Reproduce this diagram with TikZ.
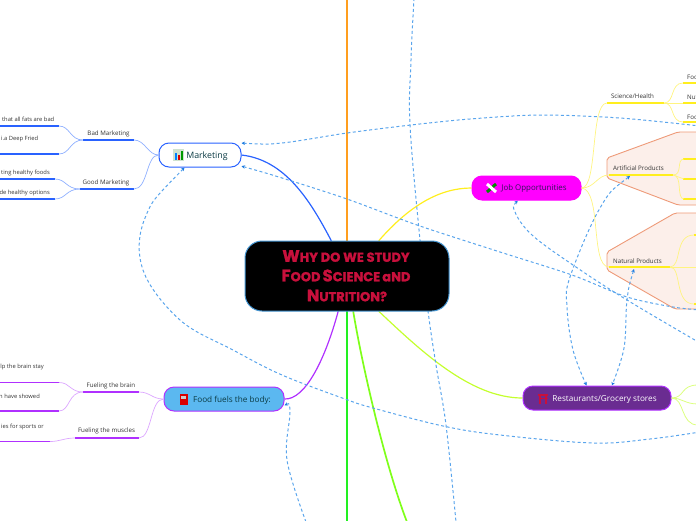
\documentclass[tikz,border=0pt]{standalone}
\usepackage{fontspec}
\setmainfont{Open Sans}
\newfontfamily\titlefont{Poppins}[BoldFeatures={FakeBold=1.6}]
\usetikzlibrary{arrows.meta}
\definecolor{bluedeep}{HTML}{2962FF}
\definecolor{bluelite}{HTML}{8FB0FF}
\definecolor{purpdeep}{HTML}{B030FF}
\definecolor{purplite}{HTML}{DCA6FF}
\definecolor{yeldeep}{HTML}{FFEE1E}
\definecolor{yellite}{HTML}{FFF480}
\definecolor{limedeep}{HTML}{C4FF2E}
\definecolor{limelite}{HTML}{DCFF80}
\definecolor{relblue}{HTML}{5AA5EC}
\definecolor{tipblue}{HTML}{1E7BE0}
\definecolor{crimson}{HTML}{C8103C}
\definecolor{peach}{HTML}{EE9A78}
\definecolor{peachbg}{HTML}{FCEFEA}
\definecolor{darkteal}{HTML}{0B3B44}
\definecolor{lbl}{HTML}{333333}
\definecolor{orangeline}{HTML}{FF9E1E}
\definecolor{greenline}{HTML}{22F022}
\definecolor{limeline}{HTML}{7FFF1A}
\definecolor{jobfill}{HTML}{FF00FF}
\definecolor{foodfill}{HTML}{5BB8F0}
\definecolor{restfill}{HTML}{6A2C91}
\definecolor{mainedge}{HTML}{4696D2}
\definecolor{jobtext}{HTML}{32145A}
\newcommand{\tbig}[1]{{\fontsize{16.5}{16.5}\selectfont #1}}
\newcommand{\tsmall}[1]{{\fontsize{13}{15}\selectfont\MakeUppercase{#1}}}
\tikzset{
 rel/.style={relblue,line width=1pt,dash pattern=on 3pt off 2.5pt},
 reltip/.style={rel,{Stealth[length=3.5pt,width=3.5pt,color=tipblue]}-},
 relboth/.style={rel,{Stealth[length=3.5pt,width=3.5pt,color=tipblue]}-{Stealth[length=3.5pt,width=3.5pt,color=tipblue]}},
 topic/.style={inner sep=0pt,rounded corners=10pt,minimum height=24pt,line width=1pt},
 toptext/.style={inner sep=0pt,yshift=-0.8pt},
 lab/.style={font=\fontsize{6.2}{8}\selectfont,text=lbl,inner sep=0pt,yshift=-1pt},
 leaflab/.style={font=\fontsize{5.8}{8}\selectfont,text=lbl,inner sep=0pt,yshift=-1pt},
 bardeep/.style={line width=1.5pt,line cap=butt},
 thinblue/.style={bluelite,line width=0.7pt},
 thinpurp/.style={purplite,line width=0.7pt},
 thinyel/.style={yellite,line width=0.7pt},
 thinlime/.style={limelite,line width=0.8pt},
 polybox/.style={draw=peach,fill=peachbg,line width=0.9pt,rounded corners=2pt},
 titlenode/.style={font=\titlefont\bfseries,text=crimson,inner sep=0pt},
}
\begin{document}
\begin{tikzpicture}[x=1pt,y=-1pt]
\useasboundingbox (0,0) rectangle (696,520);
\clip (0,0) rectangle (696,520);

% boundary polygons
\draw[polybox] (607,158) -- (678,132) -- (710,132) -- (710,205) -- (678,205) -- (607,178) -- cycle;
\draw[polybox] (607,252) -- (675,213) -- (710,213) -- (710,309) -- (675,309) -- (607,270) -- cycle;

% node anchors for connectors
\node[minimum width=204pt,minimum height=70pt,inner sep=0pt] (c) at (347,276) {};
\node[topic,minimum width=82pt] (mkt) at (200,155) {};
\node[topic,minimum width=120pt] (food) at (224,399) {};
\node[topic,minimum width=109pt] (job) at (526.5,188) {};
\node[topic,minimum width=148pt] (rest) at (597,398) {};

% free ends
\coordinate (topA) at (414,-2);
\coordinate (botA) at (456,522);
\coordinate (rightB) at (700,126);
\coordinate (rightC) at (700,310);
\coordinate (rightJ) at (700,343);
\coordinate (rightD) at (700,432);
\coordinate (botE) at (306,522);
\coordinate (artEnd) at (630,176);
\coordinate (natEnd) at (634,269);

% main branches
\draw[orangeline,line width=2pt] (c.90) -- (347,-2);
\draw[greenline,line width=2pt] (c.-90) -- (347,522);
\draw[limeline,line width=1.7pt] (c.-80.3) .. controls (362,365) and (385,465) .. (407,522);
\draw[limedeep,line width=1.2pt] (c.-48.5) .. controls (420,350) and (470,398) .. (rest.west);
\draw[yeldeep,line width=1.2pt] (c.48.5) .. controls (410,205) and (440,188) .. (job.west);
\draw[bluedeep,line width=1.2pt] (mkt.east) .. controls (285,160) and (310,200) .. (c.114.6);
\draw[purpdeep,line width=1.2pt] (food.east) .. controls (305,400) and (325,360) .. (c.-104.4);

% relationship lines
\draw[rel] plot[smooth,tension=0.6] coordinates {(topA) (411,60) (410,125) (420,240) (428,311) (436,365) (446,425) (botA)};
\draw[reltip] plot[smooth,tension=0.5] coordinates {(mkt.16) (282,143) (347,133) (411,125) (470,119) (540,115) (620,118) (rightB)};
\draw[reltip] plot[smooth,tension=0.5] coordinates {(mkt.-15) (282,178) (347,199) (417,225) (500,252) (572,275) (627,297) (673,307) (rightC)};
\draw[reltip] plot[smooth,tension=0.6] coordinates {(job.-125) (515,212) (532,235) (573,265) (627,300) (rightJ)};
\draw[relboth] plot[smooth,tension=0.6] coordinates {(artEnd) (600,208) (570,277) (567,307) (573,350) (rest.130)};
\draw[relboth] plot[smooth,tension=0.6] coordinates {(natEnd) (627,300) (624,348) (rest.40.6)};
\draw[reltip] plot[smooth,tension=0.6] coordinates {(mkt.-141) (145,218) (143,270) (180,320) (233,350) (282,375) (345,399) (373,408) (443,426) (500,435) (593,443) (650,439) (rightD)};
\draw[reltip] plot[smooth,tension=0.6] coordinates {(food.-6) (290,412) (287,460) (botE)};

% topics drawn over the connectors
\node[draw=bluedeep,fill=white,topic,minimum width=82pt] (mktbox) at (mkt) {};
\node[draw=purpdeep,fill=foodfill,topic,minimum width=120pt] (foodbox) at (food) {};
\node[draw=jobfill,fill=jobfill,topic,minimum width=109pt] (jobbox) at (job) {};
\node[draw=purpdeep,fill=restfill,topic,minimum width=148pt] (restbox) at (rest) {};
\node[draw=mainedge,fill=black,rounded corners=17pt,minimum width=204pt,minimum height=70pt,inner sep=0pt,line width=1pt] (cbox) at (c) {};

% Title
\node[titlenode] (t1) at (346,256) {\tbig{W}\tsmall{hy do we study}};
\node[titlenode] (t2) at (346,275.5) {\tbig{F}\tsmall{ood} \tbig{S}\tsmall{cience} {\fontsize{13}{15}\selectfont a}\tsmall{nd}};
\node[titlenode] (t3) at (347,295.5) {\tbig{N}\tsmall{utrition?}};

% topic labels
\node[toptext,text=darkteal,font=\fontsize{8.8}{10}\selectfont] (mktl) at (207,155) {Marketing};
\node[toptext,text=darkteal,font=\fontsize{8.2}{10}\selectfont] (foodl) at (232,399.5) {Food fuels the body:};
\node[toptext,text=jobtext,font=\fontsize{7.9}{10}\selectfont] (jobl) at (534,188) {Job Opportunities};
\node[toptext,text=white,font=\fontsize{8.2}{10}\selectfont] (restl) at (604.5,399) {Restaurants/Grocery stores};

% icons
\fill[green!25!gray!30] (173,149) rectangle (184,161);
\fill[blue!50!cyan] (174.5,153) rectangle (177,160);
\fill[red!85!black] (177.8,155) rectangle (180.3,160);
\fill[green!60!black] (181,151) rectangle (183.3,160);
\fill[red!85!black] (179.5,394) rectangle (187.5,405);
\fill[gray!40] (181,396) rectangle (186,399);
\draw[green!55!black,line width=3pt] (487,192) -- (496,184);
\draw[white,line width=3pt] (487,184) -- (496,192);
\draw[crimson,line width=1.5pt] (538,395) -- (548,395);
\draw[crimson,line width=1.5pt] (540,395) -- (540,404) (546,395) -- (546,404);
\draw[crimson,line width=1pt] (538.5,398) -- (547.5,398);

% Marketing subtree
\coordinate (bm0) at (83,140);
\coordinate (bm1) at (134,140);
\coordinate (gm0) at (80,189);
\coordinate (gm1) at (134,189);
\node[lab] (bm) at (108.5,133) {Bad Marketing};
\node[lab] (gm) at (106,182) {Good Marketing};
\draw[bluedeep,bardeep] (bm0) -- (bm1);
\draw[bluedeep,bardeep] (gm0) -- (gm1);
\draw[thinblue] (mktbox.west) .. controls (148,155) and (145,140) .. (bm1);
\draw[thinblue] (mktbox.west) .. controls (146,155) and (148,189) .. (gm1);
\draw[bluedeep,bardeep] (-2,126) -- (59,126);
\draw[bluedeep,bardeep] (-2,154) -- (59,154);
\draw[bluedeep,bardeep] (-2,179) -- (55,179);
\draw[bluedeep,bardeep] (-2,199) -- (55,199);
\draw[thinblue] (59,126) .. controls (70,126) and (70,140) .. (bm0);
\draw[thinblue] (59,154) .. controls (70,154) and (70,140) .. (bm0);
\draw[thinblue] (55,179) .. controls (66,179) and (66,189) .. (gm0);
\draw[thinblue] (55,199) .. controls (66,199) and (66,189) .. (gm0);
\node[leaflab,anchor=east] (l1) at (54.5,118) {that all fats are bad};
\node[leaflab,anchor=east] (l2) at (38.5,138) {i.a Deep Fried};
\node[leaflab,anchor=east] (l3) at (50,172) {ting healthy foods};
\node[leaflab,anchor=east] (l4) at (50,192) {de healthy options};

% Food subtree
\coordinate (fb0) at (83,392);
\coordinate (fb1) at (139,392);
\coordinate (fm0) at (75,438);
\coordinate (fm1) at (139,438);
\node[lab] (fb) at (111,385) {Fueling the brain};
\node[lab] (fm) at (106.5,430) {Fueling the muscles};
\draw[purpdeep,bardeep] (fb0) -- (fb1);
\draw[purpdeep,bardeep] (fm0) -- (fm1);
\draw[thinpurp] (foodbox.west) .. controls (152,399) and (150,392) .. (fb1);
\draw[thinpurp] (foodbox.west) .. controls (150,399) and (152,438) .. (fm1);
\draw[purpdeep,bardeep] (-2,382.5) -- (59,382.5);
\draw[purpdeep,bardeep] (-2,411) -- (59,411);
\draw[purpdeep,bardeep] (-2,441.5) -- (50,441.5);
\draw[thinpurp] (59,382.5) .. controls (70,382.5) and (70,392) .. (fb0);
\draw[thinpurp] (59,411) .. controls (70,411) and (68,392) .. (fb0);
\draw[thinpurp] (50,441.5) .. controls (60,441.5) and (64,438) .. (fm0);
\node[leaflab,anchor=east] (l5) at (44,366) {lp the brain stay};
\node[leaflab,anchor=east] (l6) at (40,395) {n have showed};
\node[leaflab,anchor=east] (l7) at (44,426) {ies for sports or};

% Job subtree
\coordinate (sh0) at (607,103);
\coordinate (sh1) at (664,103);
\coordinate (ar0) at (609,175);
\coordinate (ar1) at (673,175);
\coordinate (na0) at (609,267);
\coordinate (na1) at (670,267);
\draw[yeldeep,bardeep] (sh0) -- (sh1);
\draw[yeldeep,bardeep] (ar0) -- (ar1);
\draw[yeldeep,bardeep] (na0) -- (na1);
\draw[thinyel] (jobbox.east) .. controls (598,188) and (590,103) .. (sh0);
\draw[thinyel] (jobbox.east) .. controls (595,188) and (597,175) .. (ar0);
\draw[thinyel] (jobbox.east) .. controls (602,190) and (590,267) .. (na0);
\draw[yeldeep,bardeep] (683,83) -- (698,83);
\draw[yeldeep,bardeep] (683,103) -- (698,103);
\draw[yeldeep,bardeep] (683,122) -- (698,122);
\draw[yeldeep,bardeep] (683,159) -- (698,159);
\draw[yeldeep,bardeep] (683,179) -- (698,179);
\draw[yeldeep,bardeep] (683,199) -- (698,199);
\draw[yeldeep,bardeep] (694,235) -- (698,235);
\draw[yeldeep,bardeep] (694,304) -- (698,304);
\draw[thinyel] (664,103) .. controls (675,103) and (670,83) .. (683,83);
\draw[thinyel] (664,103) -- (683,103);
\draw[thinyel] (664,103) .. controls (675,103) and (670,122) .. (683,122);
\draw[thinyel] (673,175) .. controls (683,175) and (676,159) .. (684,159);
\draw[thinyel] (673,175) -- (684,179);
\draw[thinyel] (673,175) .. controls (683,175) and (676,199) .. (684,199);
\draw[thinyel] (670,267) .. controls (682,267) and (674,235) .. (694,235);
\draw[thinyel] (670,267) -- (698,267);
\draw[thinyel] (670,267) .. controls (682,267) and (674,304) .. (694,304);
\node[lab] (sh) at (632.5,95.5) {Science/Health};
\node[lab] (ar) at (638.5,167.5) {Artificial Products};
\node[lab] (na) at (637.5,260) {Natural Products};
\node[lab,anchor=west] (f1) at (687,76) {Foo};
\node[lab,anchor=west] (f2) at (687,96) {Nut};
\node[lab,anchor=west] (f3) at (687,116) {Foo};

% Restaurants subtree
\draw[thinlime] (restbox.east) .. controls (685,398) and (680,385) .. (698,385);
\draw[thinlime] (restbox.east) .. controls (682,398) and (685,404) .. (698,404);
\draw[thinlime] (restbox.east) .. controls (685,398) and (680,425) .. (698,425);
\end{tikzpicture}
\end{document}
